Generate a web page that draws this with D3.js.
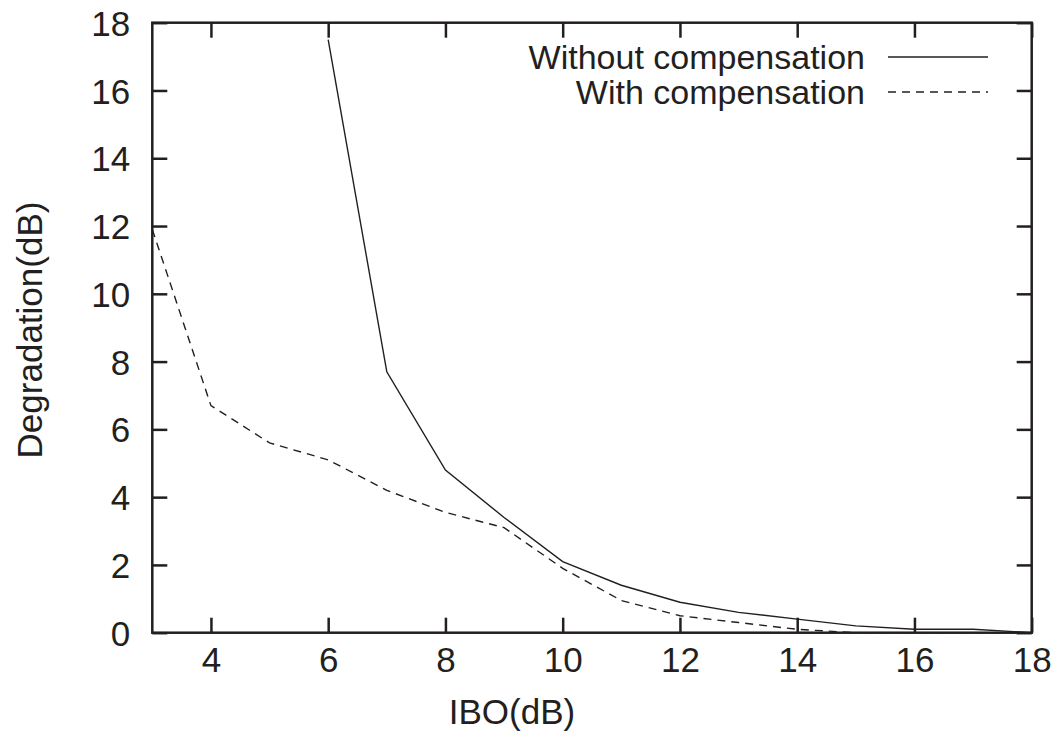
<!DOCTYPE html>
<html>
<head>
<meta charset="utf-8">
<script src="https://cdn.jsdelivr.net/npm/d3@7"></script>
<style>
  html, body { margin: 0; padding: 0; background: #fff; }
  svg { display: block; }
  text { font-family: "Liberation Sans", Arial, Helvetica, sans-serif; fill: #231f20; }
</style>
</head>
<body>
<svg id="chart" width="1059" height="742"></svg>
<script>
// IBO sweep (dB) and measured degradation (dB)
const iboWithout = [6, 7, 8, 9, 10, 11, 12, 13, 14, 15, 16, 17, 18];
const degWithout = [17.5, 7.7, 4.8, 3.4, 2.1, 1.4, 0.9, 0.6, 0.4, 0.2, 0.1, 0.1, 0.0];

const iboWith = [3, 4, 5, 6, 7, 8, 9, 10, 11, 12, 13, 14, 15, 16, 17, 18];
const degWith = [11.9, 6.7, 5.6, 5.1, 4.2, 3.55, 3.1, 1.9, 0.95, 0.5, 0.3, 0.1, 0.0, 0.0, 0.0, 0.0];

const xTicks = [4, 6, 8, 10, 12, 14, 16, 18];
const yTicks = [0, 2, 4, 6, 8, 10, 12, 14, 16, 18];

const seriesNames = ["Without compensation", "With compensation"];

const ink = "#231f20";
const svg = d3.select("#chart");
const plotLeft = 152.3, plotRight = 1031.7, plotTop = 22.7, plotBottom = 632.7;

const x = d3.scaleLinear().domain([3, 18]).range([plotLeft, plotRight]);
const y = d3.scaleLinear().domain([0, 18]).range([plotBottom, plotTop]);

// clip region for the curves
svg.append("clipPath").attr("id", "plot-clip")
  .append("rect").attr("x", plotLeft).attr("y", plotTop)
  .attr("width", plotRight - plotLeft).attr("height", plotBottom - plotTop);

const tickLen = 15;
const fontSize = 35;

// bottom axis (labels + inward ticks)
const xAxisB = svg.append("g").attr("transform", `translate(0,${plotBottom})`)
  .call(d3.axisBottom(x).tickValues(xTicks).tickSize(-tickLen).tickPadding(32).tickSizeOuter(0));
// top axis (mirror ticks only)
const xAxisT = svg.append("g").attr("transform", `translate(0,${plotTop})`)
  .call(d3.axisTop(x).tickValues(xTicks).tickSize(-tickLen).tickFormat("").tickSizeOuter(0));
// left axis (labels + inward ticks)
const yAxisL = svg.append("g").attr("transform", `translate(${plotLeft},0)`)
  .call(d3.axisLeft(y).tickValues(yTicks).tickSize(-tickLen).tickPadding(22).tickSizeOuter(0));
// right axis (mirror ticks only)
const yAxisR = svg.append("g").attr("transform", `translate(${plotRight},0)`)
  .call(d3.axisRight(y).tickValues(yTicks).tickSize(-tickLen).tickFormat("").tickSizeOuter(0));

[xAxisB, xAxisT, yAxisL, yAxisR].forEach(g => {
  g.select(".domain").remove();
  g.selectAll(".tick line").attr("stroke", ink).attr("stroke-width", 2.5);
  g.selectAll(".tick text")
    .attr("font-size", fontSize)
    .attr("font-family", "Liberation Sans, Arial, sans-serif")
    .attr("fill", ink);
});
xAxisB.selectAll(".tick text").attr("dy", "0.2em");
yAxisL.selectAll(".tick text").attr("dy", "0.36em");

// frame
svg.append("rect")
  .attr("x", plotLeft).attr("y", plotTop)
  .attr("width", plotRight - plotLeft).attr("height", plotBottom - plotTop)
  .attr("fill", "none").attr("stroke", ink).attr("stroke-width", 2.5);

// curves
const line = d3.line().x(d => x(d[0])).y(d => y(d[1]));
const plot = svg.append("g").attr("clip-path", "url(#plot-clip)");

plot.append("path")
  .datum(d3.zip(iboWithout, degWithout))
  .attr("d", line)
  .attr("fill", "none").attr("stroke", ink).attr("stroke-width", 1.4);

plot.append("path")
  .datum(d3.zip(iboWith, degWith))
  .attr("d", line)
  .attr("fill", "none").attr("stroke", ink).attr("stroke-width", 1.4)
  .attr("stroke-dasharray", "8,6");

// legend
const legend = svg.append("g");
const legendRows = [
  { name: seriesNames[0], y: 57, dash: null },
  { name: seriesNames[1], y: 92, dash: "8,6" }
];
legendRows.forEach(r => {
  legend.append("text")
    .attr("x", 865).attr("y", r.y).attr("dy", "0.34em")
    .attr("text-anchor", "end")
    .attr("font-size", 34)
    .text(r.name);
  legend.append("line")
    .attr("x1", 888).attr("x2", 988).attr("y1", r.y).attr("y2", r.y)
    .attr("stroke", ink).attr("stroke-width", 1.4)
    .attr("stroke-dasharray", r.dash);
});

// axis titles
svg.append("text")
  .attr("x", 512).attr("y", 724)
  .attr("text-anchor", "middle")
  .attr("font-size", fontSize)
  .text("IBO(dB)");

svg.append("text")
  .attr("transform", "translate(42,330) rotate(-90)")
  .attr("text-anchor", "middle")
  .attr("font-size", fontSize)
  .text("Degradation(dB)");
</script>
</body>
</html>
